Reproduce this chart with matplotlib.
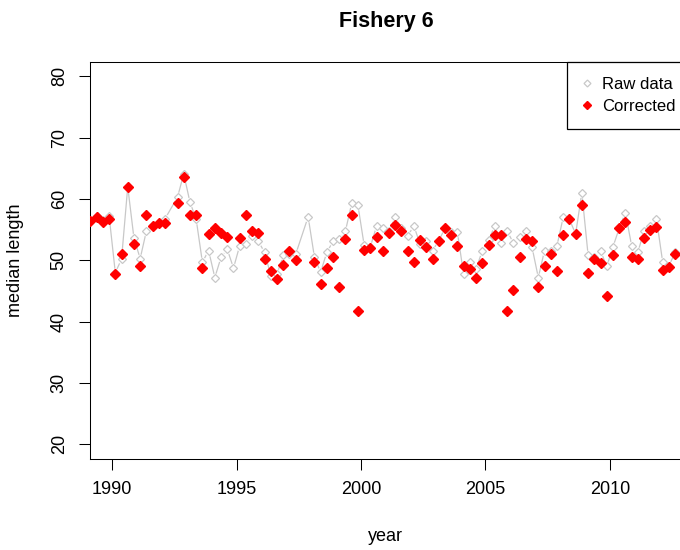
import numpy as np
import matplotlib
matplotlib.use('Agg')
import matplotlib.pyplot as plt
from matplotlib.lines import Line2D

plt.rcParams['font.family'] = ['Liberation Sans', 'DejaVu Sans']

# quarterly samples (mid quarter); 1992 Q2 and 1997 Q3 have no sample
time = np.arange(1989.125, 2012.7, 0.25)
time = time[~np.isin(time, [1992.375, 1997.625])]

raw = [56.6, 57.2, 56.6, 57.3,
       48.0, 50.2, 62.0, 53.6,
       50.3, 54.8, 55.7, 56.1,
       56.8, 60.3, 64.1,
       59.5, 56.7, 49.7, 51.6,
       47.2, 50.5, 51.8, 48.75,
       52.4, 52.65, 54.0, 53.1,
       51.3, 47.5, 47.8, 50.8,
       51.0, 51.0, 57.1,
       50.6, 48.05, 51.3, 53.1,
       53.5, 54.8, 59.3, 59.0,
       52.5, 52.2, 55.6, 55.25,
       54.8, 57.0, 55.2, 54.0,
       55.6, 52.65, 53.2, 51.6,
       53.2, 55.25, 54.7, 54.55,
       47.7, 49.8, 48.6, 51.6,
       53.3, 55.6, 52.8, 54.8,
       52.8, 53.8, 54.8, 52.1,
       47.2, 51.6, 51.6, 52.4,
       57.0, 56.7, 54.3, 61.05,
       50.9, 50.5, 51.6, 49.0,
       52.2, 55.2, 57.8, 52.4,
       51.3, 54.8, 55.6, 56.7,
       49.7, 49.1, 51.3]

nan = np.nan
corrected = [56.4, 57.15, 56.3, 56.7,
             47.7, 51.0, 61.9, 52.65,
             49.1, 57.4, 55.6, 56.06,
             56.06, 59.4, 63.65,
             57.4, 57.4, 48.75, 54.3,
             55.2, 54.5, 53.8, nan,
             53.6, 57.4, 54.8, 54.4,
             50.2, 48.3, 47.0, 49.3,
             51.6, 50.05, nan,
             49.8, 46.15, 48.75, 50.6,
             45.7, 53.5, 57.4, 41.8,
             51.7, 51.95, 53.8, 51.6,
             54.4, 55.8, 54.8, 51.6,
             49.8, 53.3, 52.1, 50.2,
             53.1, 55.2, 54.2, 52.4,
             49.0, 48.6, 47.2, 49.6,
             52.5, 54.1, 54.2, 41.8,
             45.1, 50.5, 53.5, 53.1,
             45.7, 49.0, 51.1, 48.3,
             54.1, 56.7, 54.3, 59.0,
             47.9, 50.2, 49.5, 44.2,
             50.9, 55.2, 56.3, 50.5,
             50.2, 53.6, 54.9, 55.4,
             48.5, 48.9, 51.0]

x_ticks = [1990, 1995, 2000, 2005, 2010]
y_ticks = [20, 30, 40, 50, 60, 70, 80]

fig = plt.figure(figsize=(6.8, 5.5), dpi=100)
# the plot box runs slightly past the right edge of the picture
ax = fig.add_axes([90.3 / 680, 91 / 550, 591.2 / 680, 397.3 / 550])

grey = '#C8C8C8'
ax.plot(time, raw, color=grey, lw=0.9, zorder=1)
# white pads give the broken line look of type="b"
ax.plot(time, raw, ls='none', marker='o', ms=7, mfc='white', mec='none', zorder=2)
ax.plot(time, raw, ls='none', marker='D', ms=4.2, mfc='white', mec=grey, mew=0.9, zorder=3)
ax.plot(time, corrected, ls='none', marker='D', ms=4.8, color='red', mec='red', zorder=4)

ax.set_xlim(1989.12, 2012.88)
ax.set_ylim(17.6, 82.4)
ax.set_xticks(x_ticks)
ax.set_yticks(y_ticks)
ax.tick_params(direction='out', length=7.7, width=0.75, labelsize=13, pad=8.5, colors='black')
for lab in ax.get_yticklabels():
    lab.set_rotation(90)
    lab.set_va('center')
for sp in ax.spines.values():
    sp.set_linewidth(0.75)
    sp.set_color('black')

ax.set_title('Fishery 6', fontsize=15.5, fontweight='bold', pad=25)
ax.set_xlabel('year', fontsize=13, labelpad=21)
ax.set_ylabel('median length', fontsize=13, labelpad=19)

handles = [Line2D([], [], ls='none', marker='D', ms=3.5, mfc='white', mec=grey, mew=0.9),
           Line2D([], [], ls='none', marker='D', ms=4, color='red')]
leg = ax.legend(handles, ['Raw data', 'Corrected'], loc='upper right', bbox_to_anchor=(1.016, 1),
                borderaxespad=0, fontsize=12, fancybox=False, framealpha=1,
                edgecolor='black', handlelength=0.6, handletextpad=0.6,
                borderpad=0.9, labelspacing=0.45)
leg.get_frame().set_linewidth(0.9)

fig.savefig('out.png', dpi=100)
